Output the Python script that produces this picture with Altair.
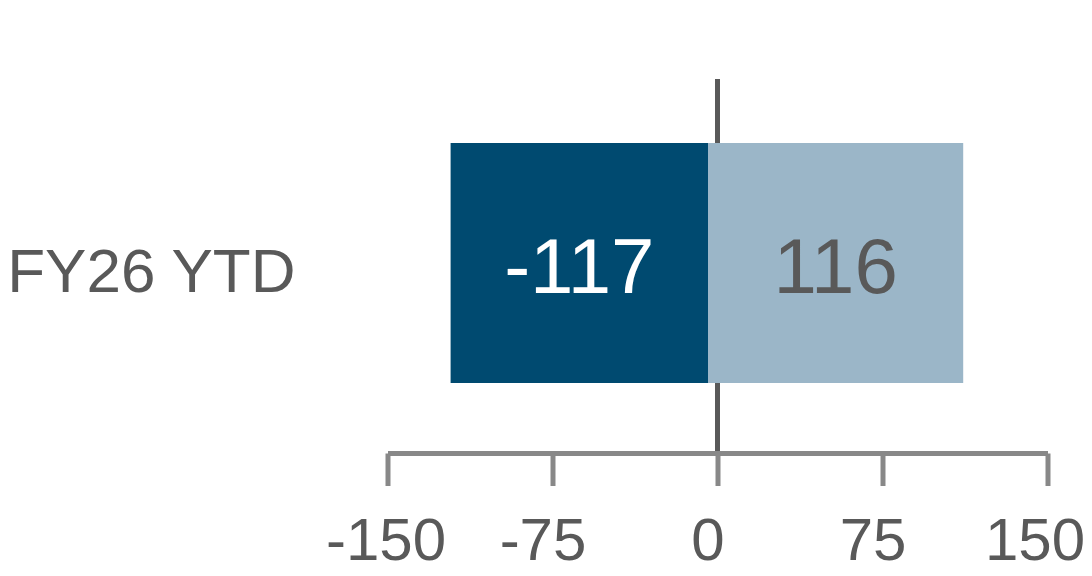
import altair as alt
import pandas as pd

# ---- data ----
categories = ["FY26 YTD", "FY26 YTD"]
series = ["Negative", "Positive"]
values = [-117, 116]
tick_values = [-150, -75, 0, 75, 150]
zero_line = [0]

df = pd.DataFrame({"category": categories, "series": series, "value": values})
zero_df = pd.DataFrame({"x": zero_line})

DARK = "#004A70"
LIGHT = "#9BB6C8"
TEXT = "#595959"
AXIS = "#888888"
FONT = "Liberation Sans"

x_scale = alt.Scale(domain=[-150, 150], nice=False, zero=False)
y_scale = alt.Scale(paddingInner=0, paddingOuter=0.279, align=0.478)

x_axis = alt.Axis(
    title=None,
    values=tick_values,
    grid=False,
    domainColor=AXIS,
    domainWidth=5,
    tickColor=AXIS,
    tickWidth=5,
    tickSize=32.5,
    labelFont=FONT,
    labelFontSize=60,
    labelColor=TEXT,
    labelPadding=27,
    labelFlush=False,
    labelOverlap=False,
    labelExpr="'' + datum.value",
    labelOffset={
        "condition": [
            {"test": "datum.value == -150", "value": -2},
            {"test": "datum.value == 150", "value": -13},
        ],
        "value": -10,
    },
    zindex=1,
)

y_axis = alt.Axis(
    title=None,
    domain=False,
    ticks=False,
    labelFont=FONT,
    labelFontSize=62,
    labelColor=TEXT,
    labelPadding=92.5,
    labelLimit=400,
    labelOffset=10,
)

rule = alt.Chart(zero_df).mark_rule(color=TEXT, strokeWidth=5).encode(
    x=alt.X("x:Q", scale=x_scale, axis=x_axis)
)

bars = (
    alt.Chart(df)
    .transform_calculate(base="0")
    .mark_bar(xOffset=-9.5, x2Offset=-9.5)
    .encode(
        x=alt.X("value:Q", scale=x_scale, axis=x_axis, stack=None),
        x2=alt.X2("base:Q"),
        y=alt.Y("category:N", scale=y_scale, axis=y_axis),
        color=alt.Color(
            "series:N",
            scale=alt.Scale(domain=series, range=[DARK, LIGHT]),
            legend=None,
        ),
    )
)

labels = (
    alt.Chart(df)
    .transform_calculate(mid="datum.value / 2", lbl="'' + datum.value")
    .mark_text(font=FONT, fontSize=78, baseline="alphabetic", align="center", dx=-9.5, dy=30)
    .encode(
        x=alt.X("mid:Q", scale=x_scale, axis=x_axis),
        y=alt.Y("category:N", scale=y_scale, axis=y_axis),
        text=alt.Text("lbl:N"),
        color=alt.condition("datum.value < 0", alt.value("#FFFFFF"), alt.value(TEXT)),
    )
)

chart = (
    alt.layer(rule, bars, labels)
    .properties(
        width=660,
        height=374,
        padding={"left": 379.5, "top": 71, "right": 36.5, "bottom": 115},
        autosize=alt.AutoSizeParams(type="none"),
        background="white",
    )
    .configure(font=FONT)
    .configure_view(stroke="transparent", strokeWidth=0)
)

chart.save("out.html", embed_options={"renderer": "svg", "actions": False})
